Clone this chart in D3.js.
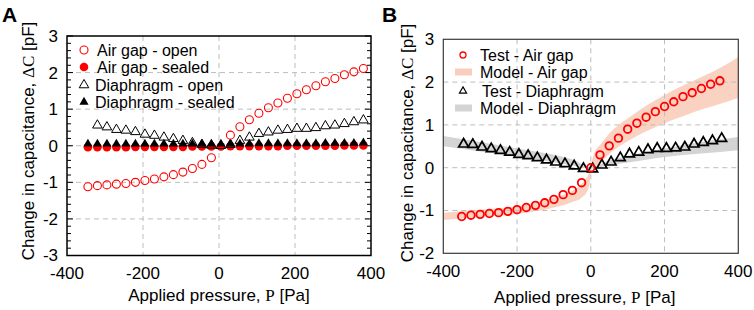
<!DOCTYPE html>
<html>
<head>
<meta charset="utf-8">
<script src="https://cdn.jsdelivr.net/npm/d3@7"></script>
<style>
  body { margin: 0; background: #fff; }
  svg text { font-family: "Liberation Sans", Arial, sans-serif; }
</style>
</head>
<body>
<div id="chart"></div>
<script>
// ---- panel A data ----
const airOpenP = [-345,-320,-295,-270,-245,-220,-195,-170,-145,-120,-95,-70,-45,-20,
  30,55,80,105,130,155,180,205,230,255,280,305,330,355,380];
const airOpen = [-1.12,-1.09,-1.07,-1.05,-1.03,-1.0,-0.95,-0.91,-0.85,-0.79,-0.72,-0.62,-0.51,-0.33,
  0.29,0.52,0.71,0.89,1.04,1.17,1.30,1.42,1.53,1.64,1.75,1.84,1.94,2.02,2.11];
const diaOpenP = [-320,-295,-270,-245,-220,-195,-170,-145,-120,-95,-70,-45,-20,5,
  30,55,80,105,130,155,180,205,230,255,280,305,330,355,380];
const diaOpen = [0.56,0.51,0.44,0.42,0.38,0.31,0.28,0.23,0.19,0.14,0.08,0.03,0.01,0.0,
  0.03,0.14,0.23,0.33,0.37,0.42,0.44,0.47,0.47,0.49,0.54,0.56,0.60,0.65,0.70];
const sealedP = [-345,-320,-295,-270,-245,-220,-195,-170,-145,-120,-95,-70,-45,-20,5,
  30,55,80,105,130,155,180,205,230,255,280,305,330,355,380];
const airSealed = [-0.04,-0.04,-0.04,-0.04,-0.04,-0.03,-0.03,-0.03,-0.03,-0.03,-0.03,-0.02,-0.02,-0.02,-0.02,
  -0.01,-0.01,-0.01,-0.01,-0.01,-0.01,0.0,0.0,0.0,0.0,0.0,0.0,0.01,0.01,0.01];
const diaSealed = [0.05,0.05,0.05,0.05,0.05,0.05,0.05,0.05,0.05,0.05,0.05,0.05,0.05,0.05,0.05,
  0.05,0.05,0.05,0.06,0.06,0.06,0.06,0.06,0.06,0.06,0.07,0.07,0.07,0.07,0.08];

// ---- panel B data ----
const testAirP = [-350,-325,-300,-275,-250,-225,-200,-175,-150,-125,-100,-75,-50,-25,0,
  25,50,75,100,125,150,175,200,225,250,275,300,325,350];
const testAir = [-1.14,-1.11,-1.09,-1.07,-1.05,-1.02,-0.98,-0.93,-0.88,-0.82,-0.74,-0.63,-0.53,-0.35,0.0,
  0.30,0.51,0.69,0.90,1.04,1.18,1.31,1.43,1.54,1.66,1.75,1.85,1.95,2.03];
const testDiaP = [-345,-320,-295,-270,-245,-220,-195,-170,-145,-120,-95,-70,-45,-20,5,
  30,55,80,105,130,155,180,205,230,255,280,305,330,355];
const testDia = [0.55,0.54,0.48,0.44,0.40,0.36,0.31,0.28,0.23,0.18,0.13,0.09,0.04,-0.02,-0.03,
  0.06,0.13,0.23,0.32,0.36,0.42,0.45,0.45,0.46,0.48,0.55,0.59,0.63,0.68];

// model bands (lower / upper edge)
const modelAirP = [-400,-300,-200,-100,-50,-25,-10,-3,0,3,10,25,50,75,100,150,200,250,300,350,400];
const modelAirHi = [-1.05,-0.98,-0.90,-0.70,-0.54,-0.38,-0.22,-0.08,0,0.15,0.35,0.53,0.80,1.0,1.15,1.45,1.70,1.92,2.12,2.33,2.58];
const modelAirLo = [-1.22,-1.15,-1.08,-0.93,-0.80,-0.70,-0.55,-0.35,0,0.0,0.02,0.10,0.32,0.49,0.62,0.85,1.04,1.20,1.36,1.49,1.63];
const modelDiaP = [-400,-300,-200,-100,-50,0,50,100,200,300,400];
const modelDiaHi = [0.74,0.60,0.45,0.30,0.19,0.02,0.17,0.28,0.45,0.60,0.72];
const modelDiaLo = [0.50,0.38,0.26,0.13,0.05,-0.02,0.06,0.12,0.25,0.33,0.41];

// ticks
const xTicks = [-400,-200,0,200,400];
const yTicksA = [-3,-2,-1,0,1,2,3];
const yTicksB = [-2,-1,0,1,2,3];

const legendA = ["Air gap - open","Air gap - sealed","Diaphragm - open","Diaphragm - sealed"];
const legendB = ["Test - Air gap","Model - Air gap","Test - Diaphragm","Model - Diaphragm"];

const RED = "#ff0000";
const SALMON = "#f9cdbb";
const GREY = "#d4d4d4";
const GRID = "#bdbdbd";

const svg = d3.select("#chart").append("svg")
  .attr("width", 754).attr("height", 310);

const zip = (xs, ys) => xs.map((x, i) => ({x: x, y: ys[i]}));
const tri = d3.symbol().type(d3.symbolTriangle);

// draws the frame, grid, ticks and axis titles for one panel
function drawFrame(g, x, y, yTicks, opts) {
  const [x0, x1] = x.range();
  const [y1, y0] = y.range();

  // dashed grid, inner values only
  g.selectAll(".gx").data(xTicks.slice(1, -1)).join("line")
    .attr("x1", d => x(d)).attr("x2", d => x(d))
    .attr("y1", y0).attr("y2", y1)
    .attr("stroke", GRID).attr("stroke-dasharray", "5,4");
  g.selectAll(".gy").data(yTicks.slice(1, -1)).join("line")
    .attr("y1", d => y(d)).attr("y2", d => y(d))
    .attr("x1", x0).attr("x2", x1)
    .attr("stroke", GRID).attr("stroke-dasharray", "5,4");

  // minor ticks on left and right (panel A only)
  if (opts.minor) {
    const minor = d3.range(yTicks[0], yTicks[yTicks.length - 1] + 0.001, 0.2);
    minor.forEach(v => {
      const major = Math.abs(v - Math.round(v)) < 0.01;
      const len = major ? 6 : 4;
      g.append("line").attr("x1", x0).attr("x2", x0 + len)
        .attr("y1", y(v)).attr("y2", y(v)).attr("stroke", "#000");
      g.append("line").attr("x1", x1).attr("x2", x1 - len)
        .attr("y1", y(v)).attr("y2", y(v)).attr("stroke", "#000");
    });
  }

  // tick labels
  g.selectAll(".tx").data(xTicks).join("text")
    .attr("x", d => x(d)).attr("y", y(yTicks[0]) + 18)
    .attr("dy", "0.35em").attr("text-anchor", "middle")
    .style("font-size", "17px").text(d => d);
  g.selectAll(".ty").data(yTicks).join("text")
    .attr("x", x0 - 9).attr("y", d => y(d))
    .attr("dy", "0.35em").attr("text-anchor", "end")
    .style("font-size", "17px").text(d => d);

  // axis titles
  const xt = g.append("text")
    .attr("x", (x0 + x1) / 2 - opts.xtShift).attr("y", opts.xtY)
    .attr("text-anchor", "middle").style("font-size", "17px");
  xt.append("tspan").text("Applied pressure, ");
  xt.append("tspan").style("font-family", "'Liberation Serif', serif").text("P");
  xt.append("tspan").text(" [Pa]");

  const yt = g.append("text")
    .attr("transform", `translate(${opts.ytX},${opts.ytY}) rotate(-90)`)
    .attr("text-anchor", "middle").style("font-size", "17px");
  yt.append("tspan").text("Change in capacitance, ");
  yt.append("tspan").style("font-family", "'Liberation Serif', serif").text("ΔC");
  yt.append("tspan").text(" [pF]");

  // panel letter
  g.append("text").attr("x", opts.letterX).attr("y", 22)
    .style("font-size", "21px").style("font-weight", "bold").text(opts.letter);
}

// ================= Panel A =================
const gA = svg.append("g");
const xA = d3.scaleLinear().domain([-400, 400]).range([67, 371]);
const yA = d3.scaleLinear().domain([-3, 3]).range([255.5, 36]);

drawFrame(gA, xA, yA, yTicksA, {minor: true, letter: "A", letterX: 2,
  xtY: 301, xtShift: 0, ytX: 34, ytY: 141});

// sealed series first (they sit under the open ones)
gA.selectAll(".as").data(zip(sealedP, airSealed)).join("circle")
  .attr("cx", d => xA(d.x)).attr("cy", d => yA(d.y)).attr("r", 4.3)
  .attr("fill", RED);
gA.selectAll(".ds").data(zip(sealedP, diaSealed)).join("path")
  .attr("d", tri.size(36)())
  .attr("transform", d => `translate(${xA(d.x)},${yA(d.y)})`)
  .attr("fill", "#000");
gA.selectAll(".do").data(zip(diaOpenP, diaOpen)).join("path")
  .attr("d", tri.size(40)())
  .attr("transform", d => `translate(${xA(d.x)},${yA(d.y)})`)
  .attr("fill", "none").attr("stroke", "#000").attr("stroke-width", 1);
gA.selectAll(".ao").data(zip(airOpenP, airOpen)).join("circle")
  .attr("cx", d => xA(d.x)).attr("cy", d => yA(d.y)).attr("r", 4)
  .attr("fill", "none").attr("stroke", RED).attr("stroke-width", 1.1);

// frame
gA.append("rect").attr("x", 67).attr("y", 36).attr("width", 304).attr("height", 219.5)
  .attr("fill", "none").attr("stroke", "#000").attr("stroke-width", 1.5);

// legend A
const legA = gA.selectAll(".legA").data(legendA).join("g")
  .attr("transform", (d, i) => `translate(84,${[50, 67, 85, 102][i]})`);
legA.append("text").attr("x", (d, i) => i < 2 ? 13 : 11).attr("dy", "0.35em")
  .style("font-size", "16px").text(d => d);
legA.filter((d, i) => i === 0).append("circle").attr("r", 4)
  .attr("fill", "#fff").attr("stroke", RED).attr("stroke-width", 1.1);
legA.filter((d, i) => i === 1).append("circle").attr("r", 4.3).attr("fill", RED);
legA.filter((d, i) => i === 2).append("path").attr("d", tri.size(40)())
  .attr("fill", "#fff").attr("stroke", "#000");
legA.filter((d, i) => i === 3).append("path").attr("d", tri.size(36)()).attr("fill", "#000");

// ================= Panel B =================
const gB = svg.append("g");
const xB = d3.scaleLinear().domain([-400, 400]).range([443.3, 738.3]);
const yB = d3.scaleLinear().domain([-2, 3]).range([253.3, 39.3]);

// model bands drawn beneath the grid
const bandA = d3.area().curve(d3.curveMonotoneX)
  .x(d => xB(d.x)).y0(d => yB(d.lo)).y1(d => yB(d.hi));
gB.append("path")
  .datum(modelDiaP.map((p, i) => ({x: p, lo: modelDiaLo[i], hi: modelDiaHi[i]})))
  .attr("d", bandA).attr("fill", GREY);
gB.append("path")
  .datum(modelAirP.map((p, i) => ({x: p, lo: modelAirLo[i], hi: modelAirHi[i]})))
  .attr("d", bandA).attr("fill", SALMON).attr("opacity", 0.9);

drawFrame(gB, xB, yB, yTicksB, {minor: false, letter: "B", letterX: 382,
  xtY: 303, xtShift: 6, ytX: 413, ytY: 143});

gB.selectAll(".td").data(zip(testDiaP, testDia)).join("path")
  .attr("d", tri.size(42)())
  .attr("transform", d => `translate(${xB(d.x)},${yB(d.y)})`)
  .attr("fill", "none").attr("stroke", "#000").attr("stroke-width", 1.7);
gB.selectAll(".ta").data(zip(testAirP, testAir)).join("circle")
  .attr("cx", d => xB(d.x)).attr("cy", d => yB(d.y)).attr("r", 3.8)
  .attr("fill", "none").attr("stroke", RED).attr("stroke-width", 1.8);

gB.append("rect").attr("x", 443.3).attr("y", 39.3).attr("width", 295).attr("height", 214)
  .attr("fill", "none").attr("stroke", "#3a3a3a").attr("stroke-width", 1.2);

// legend B
const legB = gB.selectAll(".legB").data(legendB).join("g")
  .attr("transform", (d, i) => `translate(463,${[55, 72, 91, 108][i]})`);
legB.append("text").attr("x", (d, i) => i === 2 ? 19 : 17).attr("dy", "0.35em")
  .style("font-size", "16px").text(d => d);
legB.filter((d, i) => i === 0).append("circle").attr("r", 3)
  .attr("fill", "#fff").attr("stroke", RED).attr("stroke-width", 1.3);
legB.filter((d, i) => i === 1).append("rect").attr("x", -8).attr("y", -3.5)
  .attr("width", 17).attr("height", 7).attr("fill", SALMON);
legB.filter((d, i) => i === 2).append("path").attr("d", tri.size(22)())
  .attr("fill", "#fff").attr("stroke", "#000").attr("stroke-width", 1.2);
legB.filter((d, i) => i === 3).append("rect").attr("x", -8).attr("y", -3.5)
  .attr("width", 17).attr("height", 7).attr("fill", GREY);
</script>
</body>
</html>
